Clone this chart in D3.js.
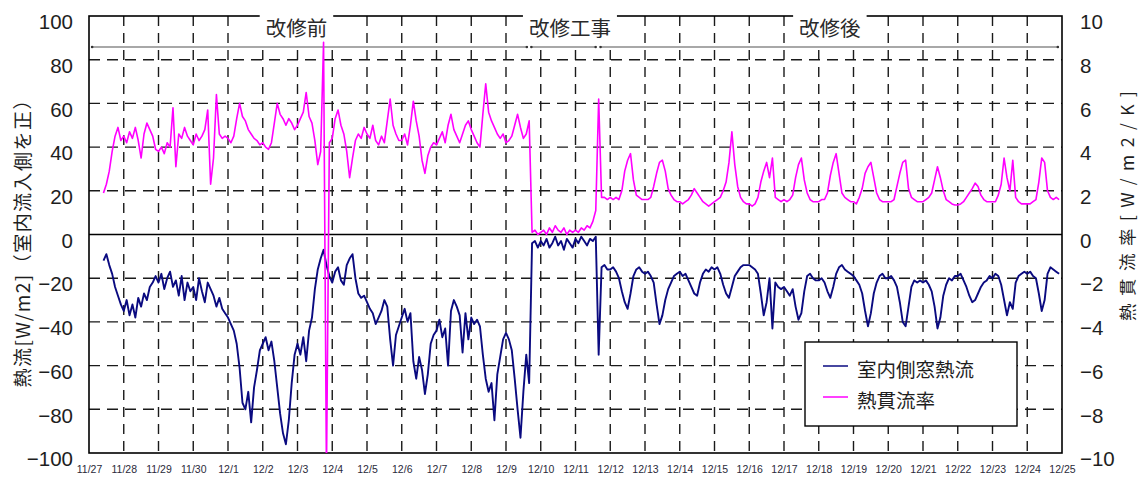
<!DOCTYPE html>
<html>
<head>
<meta charset="utf-8">
<script src="https://cdn.jsdelivr.net/npm/d3@7"></script>
<style>
  body { margin: 0; background: #fff; }
  svg { display: block; }
</style>
</head>
<body>
<svg id="chart" width="1141" height="479"></svg>
<script>
// ---- data -------------------------------------------------------------
// day labels along the bottom (one per midnight)
const dateLabels = ["11/27","11/28","11/29","11/30","12/1","12/2","12/3","12/4","12/5","12/6",
  "12/7","12/8","12/9","12/10","12/11","12/12","12/13","12/14","12/15","12/16","12/17",
  "12/18","12/19","12/20","12/21","12/22","12/23","12/24","12/25"];
const leftTicks = [100, 80, 60, 40, 20, 0, -20, -40, -60, -80, -100];
const rightTicks = [10, 8, 6, 4, 2, 0, -2, -4, -6, -8, -10];

// samples every 2 hours, one row per day starting 11/27 0:00
const samplesPerDay = 12;

// indoor-side window heat flow [W/m2]
const heatFlow = [
  [null,null,null,null,null,-12,-9,-14,-18,-24,-28,-32],
  [-35,-30,-37,-32,-38,-29,-33,-27,-30,-24,-22,-19],
  [-22,-18,-25,-20,-17,-24,-21,-28,-19,-30,-22,-26],
  [-24,-30,-20,-26,-31,-22,-25,-28,-33,-29,-34,-36],
  [-38,-41,-44,-50,-61,-77,-80,-72,-86,-70,-62,-53],
  [-50,-47,-53,-49,-58,-70,-82,-91,-96,-85,-68,-55],
  [-50,-55,-47,-58,-44,-38,-25,-16,-11,-7,-14,-19],
  [-22,-17,-15,-21,-23,-14,-11,-9,-20,-27,-29,-28],
  [-31,-34,-36,-41,-38,-35,-30,-33,-48,-60,-46,-42],
  [-38,-34,-40,-36,-58,-66,-56,-62,-73,-64,-50,-46],
  [-44,-39,-47,-43,-60,-35,-30,-33,-37,-54,-36,-48],
  [-38,-41,-39,-42,-55,-66,-72,-68,-85,-64,-56,-48],
  [-45,-48,-53,-66,-80,-93,-72,-55,-68,-4,-3,-6],
  [-3,-5,-2,-6,-4,-1,-5,-3,-7,-2,-4,-6],
  [-2,-4,-1,-3,-5,-2,-3,-1,-55,-15,-14,-16],
  [-16,-15,-17,-20,-26,-31,-34,-27,-19,-16,-15,-17],
  [-18,-17,-19,-22,-32,-41,-37,-30,-25,-22,-19,-18],
  [-17,-19,-18,-21,-24,-27,-28,-22,-18,-16,-17,-15],
  [-16,-15,-18,-23,-27,-29,-24,-19,-17,-15,-14,-14],
  [-14,-15,-16,-18,-27,-37,-31,-20,-43,-22,-24,-25],
  [-24,-26,-28,-25,-33,-39,-36,-26,-19,-18,-20,-21],
  [-21,-20,-22,-26,-29,-24,-18,-15,-14,-16,-17,-18],
  [-19,-21,-23,-27,-35,-42,-36,-27,-22,-19,-18,-20],
  [-20,-19,-21,-24,-31,-40,-42,-33,-24,-21,-22,-21],
  [-22,-21,-23,-26,-33,-43,-38,-28,-23,-20,-21,-19],
  [-19,-18,-21,-24,-28,-31,-30,-27,-24,-22,-21,-19],
  [-20,-18,-19,-23,-30,-37,-31,-34,-22,-19,-18,-17],
  [-18,-17,-19,-20,-27,-35,-30,-18,-15,-16,-17,-18]
];

// overall heat transmission coefficient [W/m2/K]
const uValue = [
  [null,null,null,null,null,1.9,2.3,2.9,3.8,4.5,4.9,4.3],
  [4.5,4.2,4.7,4.4,4.9,4.3,3.5,4.6,5.1,4.8,4.5,3.9],
  [3.8,4.0,3.7,4.2,4.0,5.8,3.1,4.6,4.4,4.9,4.5,4.3],
  [4.1,4.6,4.3,4.5,4.8,5.7,2.3,3.5,6.4,4.6,4.4,4.5],
  [4.4,4.2,4.5,5.3,6.0,5.4,5.2,4.8,4.6,4.4,4.3,4.1],
  [4.2,4.0,3.9,4.2,5.1,6.0,5.5,5.3,5.0,5.3,5.1,4.8],
  [5.0,5.3,5.6,6.5,5.4,5.1,4.3,3.2,3.8,8.8,-11,4.2],
  [4.4,5.3,5.7,5.0,4.6,3.8,2.6,3.5,4.3,4.6,4.4,4.9],
  [4.6,4.4,5.0,4.3,4.1,4.5,4.2,5.2,6.2,5.0,4.6,4.3],
  [4.3,4.6,4.1,5.0,6.1,5.2,4.5,3.4,2.8,3.6,4.0,4.2],
  [4.1,4.4,4.7,4.2,5.0,5.5,4.8,4.5,4.2,4.6,5.0,5.2],
  [4.8,4.5,4.2,4.0,5.5,6.9,5.6,5.2,4.9,4.6,4.4,4.6],
  [4.2,4.3,4.5,5.0,5.5,4.9,4.4,4.6,5.2,0.1,0.2,0.0],
  [0.1,0.2,0.0,0.3,0.1,0.4,0.2,0.1,0.3,0.0,0.2,0.1],
  [0.2,0.1,0.3,0.2,0.4,0.3,0.6,1.1,6.2,1.7,1.7,1.6],
  [1.7,1.6,1.7,1.6,2.0,2.9,3.4,3.7,2.5,1.8,1.7,1.6],
  [1.6,1.6,1.7,2.2,2.8,3.3,3.4,2.9,2.1,1.8,1.6,1.5],
  [1.5,1.4,1.5,1.6,1.8,2.1,1.9,1.7,1.5,1.4,1.3,1.4],
  [1.5,1.6,1.7,2.0,2.4,3.3,4.7,3.2,2.2,1.7,1.5,1.4],
  [1.4,1.3,1.4,1.7,2.4,2.9,3.3,2.6,3.5,1.7,1.6,1.5],
  [1.6,1.5,1.6,1.8,2.6,3.2,3.5,2.5,1.9,1.6,1.5,1.5],
  [1.5,1.6,1.6,1.9,2.7,3.3,3.7,2.8,1.9,1.7,1.6,1.5],
  [1.5,1.4,1.7,2.1,2.8,3.1,3.3,2.6,1.9,1.6,1.5,1.5],
  [1.5,1.5,1.6,2.2,2.8,3.3,3.4,2.1,1.7,1.6,1.5,1.5],
  [1.5,1.6,1.7,1.9,2.5,3.1,2.6,2.0,1.6,1.5,1.4,1.35],
  [1.35,1.4,1.5,1.7,1.9,2.1,2.35,2.2,1.8,1.6,1.5,1.5],
  [1.5,1.5,1.8,2.3,3.5,2.6,2.0,3.4,1.7,1.5,1.4,1.4],
  [1.4,1.4,1.5,1.6,2.4,3.5,3.3,2.0,1.7,1.6,1.7,1.6]
];

// measurement periods, in days from 11/27 0:00
const periodNames = ["改修前", "改修工事", "改修後"];
const periodStart = [0.09, 12.73, 14.72];
const periodEnd = [12.6, 14.58, 27.88];
const periodLabelDay = [5.97, 13.84, 21.32];

const seriesNames = ["室内側窓熱流", "熱貫流率"];
const seriesColors = ["#0a0a80", "#ff00ff"];

const leftTitle = "熱流[W/m2]（室内流入側を正）";
const rightTitle = "熱貫流率[W/m2/K]";

// ---- layout ---------------------------------------------------------
const svg = d3.select("#chart");
const plot = { left: 89, right: 1062, top: 16, bottom: 453 };
const latin = "'Liberation Sans', Arial, sans-serif";
const cjk = "'Noto Sans CJK JP', 'Liberation Sans', sans-serif";

const x = d3.scaleLinear().domain([0, dateLabels.length - 1]).range([plot.left, plot.right]);
const yL = d3.scaleLinear().domain([-100, 100]).range([plot.bottom, plot.top]);
const yR = d3.scaleLinear().domain([-10, 10]).range([plot.bottom, plot.top]);

function toPoints(rows) {
  const pts = [];
  rows.forEach((row, d) => row.forEach((v, j) => pts.push({ t: d + j / samplesPerDay, v })));
  return pts;
}

// grid
const grid = svg.append("g");
grid.selectAll("line.v")
  .data(d3.range(1, dateLabels.length - 1))
  .join("line")
  .attr("x1", d => x(d)).attr("x2", d => x(d))
  .attr("y1", plot.top).attr("y2", plot.bottom)
  .attr("stroke", "#1a1a1a").attr("stroke-width", 1.4)
  .attr("stroke-dasharray", "10,7");
grid.selectAll("line.h")
  .data(leftTicks.filter(v => v !== 0 && Math.abs(v) !== 100))
  .join("line")
  .attr("x1", plot.left).attr("x2", plot.right)
  .attr("y1", d => yL(d)).attr("y2", d => yL(d))
  .attr("stroke", "#1a1a1a").attr("stroke-width", 1.4)
  .attr("stroke-dasharray", "11,7");
grid.append("line")
  .attr("x1", plot.left).attr("x2", plot.right)
  .attr("y1", yL(0)).attr("y2", yL(0))
  .attr("stroke", "#000").attr("stroke-width", 1.5);

// frame
svg.append("rect")
  .attr("x", plot.left).attr("y", plot.top)
  .attr("width", plot.right - plot.left).attr("height", plot.bottom - plot.top)
  .attr("fill", "none").attr("stroke", "#000").attr("stroke-width", 1.6);

// axes (labels only)
const axL = svg.append("g").attr("transform", `translate(${plot.left - 16},0)`)
  .call(d3.axisLeft(yL).tickValues(leftTicks).tickSize(0).tickPadding(0)
    .tickFormat(d => d < 0 ? "\u2212" + Math.abs(d) : d));
const axR = svg.append("g").attr("transform", `translate(${plot.right + 18},0)`)
  .call(d3.axisRight(yR).tickValues(rightTicks).tickSize(0).tickPadding(0)
    .tickFormat(d => d < 0 ? "\u2212" + Math.abs(d) : d));
[axL, axR].forEach(ax => {
  ax.select(".domain").remove();
  ax.selectAll("text").attr("font-family", latin).attr("font-size", 20.5)
    .attr("fill", "#1e1e1e").attr("dy", "0.62em");
});

const axB = svg.append("g").attr("transform", `translate(0,${plot.bottom})`)
  .call(d3.axisBottom(x).tickValues(d3.range(dateLabels.length)).tickSize(0).tickPadding(0)
    .tickFormat(i => dateLabels[i]));
axB.select(".domain").remove();
axB.selectAll("text").attr("font-family", latin).attr("font-size", 10.5)
  .attr("fill", "#2a2a3a").attr("dy", "1.95em");

// axis titles
svg.append("text")
  .attr("transform", `translate(21,${239}) rotate(-90)`)
  .attr("text-anchor", "middle").attr("dominant-baseline", "central")
  .attr("font-family", cjk).attr("font-size", 19).attr("fill", "#1e1e1e")
  .attr("textLength", 297).attr("lengthAdjust", "spacing")
  .text(leftTitle);
svg.append("text")
  .attr("transform", `translate(1126,${206}) rotate(-90)`)
  .attr("text-anchor", "middle").attr("dominant-baseline", "central")
  .attr("font-family", cjk).attr("font-size", 17.5).attr("fill", "#1e1e1e")
  .attr("textLength", 230).attr("lengthAdjust", "spacing")
  .text(rightTitle);

// period bar with labels
const bandY = yL(85.8);
const band = svg.append("g");
periodNames.forEach((name, i) => {
  band.append("line")
    .attr("x1", x(periodStart[i])).attr("x2", x(periodEnd[i]))
    .attr("y1", bandY).attr("y2", bandY)
    .attr("stroke", "#a8a8a8").attr("stroke-width", 2);
  [periodStart[i], periodEnd[i]].forEach(t => band.append("circle")
    .attr("cx", x(t)).attr("cy", bandY).attr("r", 1.3).attr("fill", "#333"));
});
periodNames.forEach((name, i) => {
  const g = band.append("g");
  const rect = g.append("rect").attr("fill", "#fff");
  const txt = g.append("text")
    .attr("x", x(periodLabelDay[i])).attr("y", 27)
    .attr("text-anchor", "middle").attr("dominant-baseline", "central")
    .attr("font-family", cjk).attr("font-size", 20.5).attr("fill", "#2a2a2a")
    .text(name);
  const w = txt.node().getComputedTextLength();
  rect.attr("x", x(periodLabelDay[i]) - w / 2 - 6).attr("width", w + 12)
    .attr("y", 12).attr("height", bandY - 13.5);
});

// data lines
svg.append("clipPath").attr("id", "plot-clip").append("rect")
  .attr("x", plot.left).attr("y", plot.top)
  .attr("width", plot.right - plot.left).attr("height", plot.bottom - plot.top);
const layer = svg.append("g").attr("clip-path", "url(#plot-clip)");

const lineL = d3.line().defined(d => d.v !== null).x(d => x(d.t)).y(d => yL(d.v));
const lineR = d3.line().defined(d => d.v !== null).x(d => x(d.t)).y(d => yR(d.v));

layer.append("path").datum(toPoints(heatFlow))
  .attr("d", lineL).attr("fill", "none")
  .attr("stroke", seriesColors[0]).attr("stroke-width", 1.9)
  .attr("stroke-linejoin", "round");
layer.append("path").datum(toPoints(uValue))
  .attr("d", lineR).attr("fill", "none")
  .attr("stroke", seriesColors[1]).attr("stroke-width", 1.6)
  .attr("stroke-linejoin", "round");

// legend
const lg = svg.append("g").attr("transform", "translate(805,342)");
lg.append("rect").attr("width", 212).attr("height", 84)
  .attr("fill", "#fff").attr("stroke", "#000").attr("stroke-width", 1.4);
seriesNames.forEach((name, i) => {
  const yy = 24 + i * 31;
  lg.append("line").attr("x1", 18).attr("x2", 43).attr("y1", yy).attr("y2", yy)
    .attr("stroke", seriesColors[i]).attr("stroke-width", 1.5);
  lg.append("text").attr("x", 52).attr("y", yy + 2)
    .attr("dominant-baseline", "central")
    .attr("font-family", cjk).attr("font-size", 19.5).attr("fill", "#1e1e1e")
    .text(name);
});
</script>
</body>
</html>
